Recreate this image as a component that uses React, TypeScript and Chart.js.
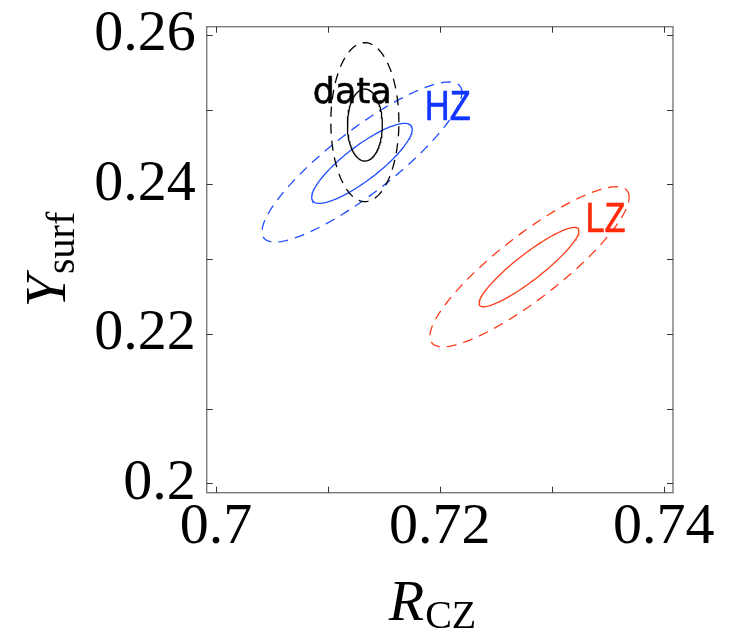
import React, { useEffect, useRef } from 'react';
import Chart from 'chart.js/auto';

// Groups of confidence contours
const groupNames = ['data', 'HZ', 'LZ'];
const lineColors = ['#000000', '#1f4dff', '#ff3b1a'];
const labelColors = ['#000000', '#1236ff', '#ff2a0a'];

// Inner (solid) contours: centre, half extents and correlation
const innerCenterX = [0.7133, 0.71304, 0.72797];
const innerCenterY = [0.24795, 0.24282, 0.22894];
const innerHalfX = [0.00156, 0.00449, 0.00446];
const innerHalfY = [0.00482, 0.00535, 0.00531];
const innerCorr = [0.0, 0.85, 0.91];

// Outer (dashed) contours
const outerCenterX = [0.7133, 0.71304, 0.72801];
const outerCenterY = [0.24833, 0.243, 0.22898];
const outerHalfX = [0.00304, 0.00893, 0.0089];
const outerHalfY = [0.01064, 0.01071, 0.01071];
const outerCorr = [0.0, 0.87, 0.87];

// Label anchors (left / baseline for HZ, LZ; centre / baseline for data)
const labelX = [0.71217, 0.71866, 0.73301];
const labelY = [0.25086, 0.24862, 0.23367];

const xTicks = [0.7, 0.71, 0.72, 0.73, 0.74];
const xTickLabels = ['0.7', '', '0.72', '', '0.74'];
const yTicks = [0.2, 0.21, 0.22, 0.23, 0.24, 0.25, 0.26];
const yTickLabels = ['0.2', '', '0.22', '', '0.24', '', '0.26'];
const xRange = [0.69917, 0.74083];
const yRange = [0.19874, 0.26111];

const W = 731;
const H = 632;

function contour(cx: number, cy: number, hx: number, hy: number, r: number) {
  const n = 160;
  const s = Math.sqrt(1 - r * r);
  const pts: { x: number; y: number }[] = [];
  for (let i = 0; i <= n; i++) {
    const t = (2 * Math.PI * i) / n;
    pts.push({ x: cx + hx * Math.cos(t), y: cy + hy * (r * Math.cos(t) + s * Math.sin(t)) });
  }
  return pts;
}

const framePlugin = {
  id: 'frameAndText',
  afterDraw(chart: any) {
    const { ctx, chartArea } = chart;
    const xs = chart.scales.x;
    const ys = chart.scales.y;
    const { left, right, top, bottom } = chartArea;
    ctx.save();
    // frame
    ctx.strokeStyle = '#7a7a7a';
    ctx.lineWidth = 1.4;
    ctx.strokeRect(left, top, right - left, bottom - top);
    // inward ticks on all four sides
    ctx.strokeStyle = '#333333';
    ctx.lineWidth = 1;
    const tl = 6;
    ctx.beginPath();
    xTicks.forEach((v) => {
      const px = Math.round(xs.getPixelForValue(v)) + 0.5;
      ctx.moveTo(px, bottom);
      ctx.lineTo(px, bottom - tl);
      ctx.moveTo(px, top);
      ctx.lineTo(px, top + tl);
    });
    yTicks.forEach((v) => {
      const py = Math.round(ys.getPixelForValue(v)) + 0.5;
      ctx.moveTo(left, py);
      ctx.lineTo(left + tl, py);
      ctx.moveTo(right, py);
      ctx.lineTo(right - tl, py);
    });
    ctx.stroke();

    // group labels
    groupNames.forEach((name, i) => {
      const px = xs.getPixelForValue(labelX[i]);
      const py = ys.getPixelForValue(labelY[i]);
      ctx.save();
      ctx.fillStyle = labelColors[i];
      ctx.strokeStyle = labelColors[i];
      ctx.lineWidth = 0.6;
      ctx.textBaseline = 'alphabetic';
      ctx.translate(px, py);
      if (i === 0) {
        ctx.font = '35px "DejaVu Sans"';
        ctx.textAlign = 'center';
      } else {
        ctx.font = '42px "Liberation Sans"';
        ctx.textAlign = 'left';
        ctx.scale(0.82, 1);
      }
      ctx.fillText(name, 0, 0);
      ctx.strokeText(name, 0, 0);
      ctx.restore();
    });

    // axis titles with subscripts
    const mainFont = 'italic 58px "Liberation Serif"';
    const subFont = '40px "Liberation Serif"';
    const drawTitle = (main: string, sub: string, drop: number) => {
      ctx.font = mainFont;
      const wm = ctx.measureText(main).width;
      ctx.font = subFont;
      const ws = ctx.measureText(sub).width;
      const x0 = -(wm + ws) / 2;
      ctx.textAlign = 'left';
      ctx.textBaseline = 'alphabetic';
      ctx.fillStyle = '#000';
      ctx.font = mainFont;
      ctx.fillText(main, x0, 0);
      ctx.font = subFont;
      ctx.fillText(sub, x0 + wm + 1, drop);
    };
    ctx.save();
    ctx.translate(432, 620);
    drawTitle('R', 'CZ', 8);
    ctx.restore();
    ctx.save();
    ctx.translate(65, 260);
    ctx.rotate(-Math.PI / 2);
    drawTitle('Y', 'surf', 9);
    ctx.restore();
    ctx.restore();
  },
};

export default function App() {
  const ref = useRef<HTMLCanvasElement | null>(null);
  useEffect(() => {
    if (!ref.current) return;
    const datasets: any[] = [];
    groupNames.forEach((name, i) => {
      datasets.push({
        label: name + ' outer',
        data: contour(outerCenterX[i], outerCenterY[i], outerHalfX[i], outerHalfY[i], outerCorr[i]),
        borderColor: lineColors[i],
        borderWidth: 1.3,
        borderDash: [10, 7],
        showLine: true,
        pointRadius: 0,
        tension: 0,
      });
      datasets.push({
        label: name + ' inner',
        data: contour(innerCenterX[i], innerCenterY[i], innerHalfX[i], innerHalfY[i], innerCorr[i]),
        borderColor: lineColors[i],
        borderWidth: 1.3,
        showLine: true,
        pointRadius: 0,
        tension: 0,
      });
    });
    const chart = new Chart(ref.current, {
      type: 'scatter',
      data: { datasets },
      plugins: [framePlugin],
      options: {
        animation: false,
        responsive: false,
        events: [],
        layout: { padding: { top: 26.7, right: 58, left: 0, bottom: 0 } },
        plugins: { legend: { display: false }, tooltip: { enabled: false } },
        scales: {
          x: {
            type: 'linear',
            min: xRange[0],
            max: xRange[1],
            grid: { display: false, drawTicks: false },
            border: { display: false },
            afterBuildTicks: (s: any) => {
              s.ticks = xTicks.map((v) => ({ value: v }));
            },
            afterFit: (s: any) => {
              s.height = H - 492.7;
              s.paddingLeft = 0;
              s.paddingRight = 0;
            },
            ticks: {
              autoSkip: false,
              maxRotation: 0,
              padding: 0,
              color: '#000',
              font: { family: '"Liberation Serif"', size: 58 },
              callback: (v: any, idx: number) => xTickLabels[idx],
            },
          },
          y: {
            type: 'linear',
            min: yRange[0],
            max: yRange[1],
            grid: { display: false, drawTicks: false },
            border: { display: false },
            afterBuildTicks: (s: any) => {
              s.ticks = yTicks.map((v) => ({ value: v }));
            },
            afterFit: (s: any) => {
              s.width = 206.7;
              s.paddingTop = 0;
              s.paddingBottom = 0;
            },
            ticks: {
              autoSkip: false,
              padding: 11,
              color: '#000',
              font: { family: '"Liberation Serif"', size: 58 },
              callback: (v: any, idx: number) => yTickLabels[idx],
            },
          },
        },
      },
    });
    return () => chart.destroy();
  }, []);
  return (
    <div style={{ position: 'fixed', left: 0, top: 0, width: W, height: H, background: '#fff' }}>
      <canvas ref={ref} width={W} height={H} style={{ width: W, height: H, display: 'block' }} />
    </div>
  );
}
